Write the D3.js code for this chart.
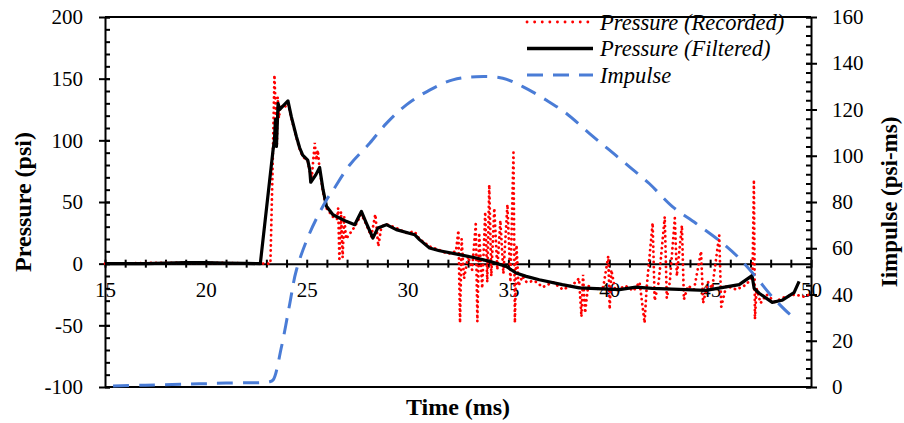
<!DOCTYPE html>
<html>
<head>
<meta charset="utf-8">
<script src="https://cdn.jsdelivr.net/npm/d3@7"></script>
<style>
  html, body { margin: 0; padding: 0; background: #fff; }
  svg { display: block; }
  text { font-family: "Liberation Serif", "Times New Roman", serif; fill: #000; }
</style>
</head>
<body>
<svg id="chart" width="904" height="423"></svg>
<script>
// ---------- DATA ----------
const xTickLabels = [15, 20, 25, 30, 35, 40, 45, 50];
const leftTickLabels = [-100, -50, 0, 50, 100, 150, 200];
const rightTickLabels = [0, 20, 40, 60, 80, 100, 120, 140, 160];
const seriesNames = ["Pressure (Recorded)", "Pressure (Filtered)", "Impulse"];

const recordedTime = [15, 17, 19, 21, 23.1, 23.2, 23.3, 23.4, 23.47, 23.52, 23.56, 23.62, 23.7, 23.85, 24.07, 24.24, 24.49, 24.65, 24.8, 25.05, 25.15, 25.25, 25.4, 25.47, 25.55, 25.64, 25.81, 25.98, 26.3, 26.5, 26.56, 26.62, 26.7, 26.78, 26.86, 26.95, 27.38, 27.71, 27.95, 28.2, 28.4, 28.55, 28.7, 28.95, 29.44, 29.9, 30.35, 30.59, 31.09, 31.58, 32.0, 32.4, 32.52, 32.6, 32.68, 32.8, 33.0, 33.2, 33.38, 33.46, 33.55, 33.7, 33.85, 33.95, 34.05, 34.15, 34.3, 34.45, 34.6, 34.75, 34.95, 35.1, 35.25, 35.32, 35.4, 35.5, 35.7, 35.9, 36.3, 36.7, 37.2, 37.7, 38.2, 38.5, 38.62, 38.7, 38.8, 38.95, 39.3, 39.7, 39.95, 40.02, 40.1, 40.3, 40.8, 41.2, 41.5, 41.75, 41.85, 42.15, 42.25, 42.45, 42.75, 42.85, 43.0, 43.25, 43.35, 43.6, 43.7, 43.9, 44.2, 44.55, 44.65, 44.9, 45.1, 45.45, 45.55, 45.8, 46.3, 46.8, 47.1, 47.17, 47.22, 47.3, 47.5, 47.8, 48.2, 48.7, 49.2, 49.7, 50];
const recordedPressure = [0, 0.5, 0.8, 0.5, 0, 0, 70, 153, 120, 95, 135, 118, 128, 126, 130, 118, 102, 93, 87, 83, 75, 70, 98, 84, 92, 76, 58, 45, 38, 36, 45, 2, 42, 5, 38, 20, 30, 40, 32, 22, 40, 14, 30, 32, 29, 25, 26, 20, 14, 11, 8, 10, 27, -48, 20, -12, 6, -5, 32, -47, 25, -20, 42, -15, 64, -10, 45, -5, 35, -8, 48, -15, 90, -48, 15, -18, -10, -15, -14, -19, -15, -21, -17, -12, -43, -9, -40, -18, -21, -19, 6, -37, -5, -22, -18, -22, -15, -48, -20, 33, -30, -15, 38, -28, -15, 37, -10, 31, -29, -18, -21, 10, -32, -15, -20, 23, -35, -18, -21, -17, -10, 68, -45, -20, -32, -25, -31, -27, -25, -27, -24];

const filteredTime = [15, 16, 17, 18, 19, 20, 21, 22, 22.7, 23.33, 23.4, 23.45, 23.5, 23.58, 23.66, 23.83, 24.07, 24.24, 24.49, 24.65, 24.8, 25.05, 25.15, 25.2, 25.45, 25.64, 25.81, 25.98, 26.3, 26.96, 27.38, 27.71, 27.95, 28.28, 28.53, 28.95, 29.44, 30.35, 30.59, 31.09, 31.58, 32.57, 33.4, 34.06, 34.89, 35.38, 35.88, 36.53, 37.67, 38.51, 40.5, 41.32, 42.13, 44.79, 46.44, 47.08, 47.18, 47.43, 48.08, 48.56, 49.16, 49.41];
const filteredPressure = [0, 0, 0, 0.5, 0.8, 0.8, 0.5, 0.3, 0, 92, 100, 117, 95, 130, 125, 128, 132, 119, 103, 94, 88, 84, 76, 66, 72, 78, 60, 46.5, 39.7, 34.3, 31.6, 42.4, 33, 20.8, 29, 31.6, 27.6, 23.5, 19.5, 12.7, 10.5, 7.3, 4.6, 1.9, -2.2, -7.6, -10.3, -13, -17, -19.6, -21, -19, -20, -21.6, -17, -9.7, -20, -24, -31.4, -29.7, -23.5, -14.3];

const impulseTime = [15.4, 17, 19, 21, 23.17, 23.33, 23.75, 24.16, 24.49, 25.15, 25.98, 26.3, 27.13, 28.12, 28.95, 29.94, 31.09, 32.24, 33.4, 34.72, 35.71, 36.87, 37.86, 39.01, 40, 40.99, 41.98, 43.13, 44.29, 45.53, 46.44, 47.26, 48.08, 48.99, 49.25];
const impulseValue = [0.4, 0.8, 1.2, 1.7, 2.3, 3, 17.4, 36, 50.6, 66.6, 80.9, 85, 96, 105.4, 114, 122, 128.4, 132.8, 134.2, 133.5, 129.9, 124.1, 118.4, 109.7, 102.5, 95.3, 88, 78, 70.8, 62.8, 55.7, 47.7, 39, 31.1, 29.5];

// ---------- LAYOUT ----------
const svg = d3.select("#chart");
const X0 = 105, X1 = 811, YT = 17, YB = 387;
const x = d3.scaleLinear().domain([15, 50]).range([X0, X1]);
const yL = d3.scaleLinear().domain([-100, 200]).range([YB, YT]);
const yR = d3.scaleLinear().domain([0, 160]).range([YB, YT]);

const RED = "#ff0000", BLACK = "#000000", BLUE = "#4a7cd6";
const tickFont = 21;
const FONT = '"Liberation Serif", "Times New Roman", serif';
const fmt = d => String(d);

// frame top & bottom
svg.append("line").attr("x1", X0).attr("x2", X1).attr("y1", YT).attr("y2", YT)
  .attr("stroke", "#000").attr("stroke-width", 2);
svg.append("line").attr("x1", X0).attr("x2", X1).attr("y1", YB).attr("y2", YB)
  .attr("stroke", "#000").attr("stroke-width", 2);

// ---------- SERIES ----------
const recData = recordedTime.map((t, i) => [t, recordedPressure[i]]);
const filData = filteredTime.map((t, i) => [t, filteredPressure[i]]);
const impData = impulseTime.map((t, i) => [t, impulseValue[i]]);

const lineL = d3.line().x(d => x(d[0])).y(d => yL(d[1]));
const lineR = d3.line().x(d => x(d[0])).y(d => yR(d[1])).curve(d3.curveCatmullRom.alpha(0.5));

// ---------- AXES ----------
function styleAxis(g) {
  g.select(".domain").attr("stroke", "#000").attr("stroke-width", 2);
  g.selectAll(".tick line").attr("stroke", "#000").attr("stroke-width", 2);
  g.selectAll("text").attr("font-size", tickFont).attr("fill", "#000").attr("font-family", FONT);
}

// left axis
const gL = svg.append("g").attr("transform", `translate(${X0},0)`);
gL.call(d3.axisLeft(yL).tickValues(d3.range(-100, 201, 10)).tickSize(-5).tickFormat(""))
  .call(g => g.select(".domain").remove())
  .selectAll(".tick line").attr("stroke", "#000").attr("stroke-width", 2);
const gL2 = svg.append("g").attr("transform", `translate(${X0},0)`);
gL2.call(d3.axisLeft(yL).tickValues(leftTickLabels).tickSize(6).tickSizeOuter(0).tickPadding(16).tickFormat(fmt));
styleAxis(gL2);
gL2.selectAll(".tick line").attr("x1", 5);

// right axis
const gR = svg.append("g").attr("transform", `translate(${X1},0)`);
gR.call(d3.axisRight(yR).tickValues(d3.range(0, 161, 4)).tickSize(-5).tickFormat(""))
  .call(g => g.select(".domain").remove())
  .selectAll(".tick line").attr("stroke", "#000").attr("stroke-width", 2);
const gR2 = svg.append("g").attr("transform", `translate(${X1},0)`);
gR2.call(d3.axisRight(yR).tickValues(rightTickLabels).tickSize(6).tickSizeOuter(0).tickPadding(15).tickFormat(fmt));
styleAxis(gR2);
gR2.selectAll(".tick line").attr("x1", -5);

// x axis at y = 0
const gX = svg.append("g").attr("transform", `translate(0,${yL(0)})`);
gX.call(d3.axisBottom(x).tickValues(d3.range(15, 51, 1)).tickSize(4).tickSizeOuter(0).tickFormat(""))
  .selectAll(".tick line").attr("y1", -4);
styleAxis(gX);
const gX2 = svg.append("g").attr("transform", `translate(0,${yL(0)})`);
gX2.call(d3.axisBottom(x).tickValues(xTickLabels).tickSize(0).tickPadding(18).tickFormat(fmt))
  .call(g => g.select(".domain").remove());
gX2.selectAll("text").attr("font-size", tickFont).attr("font-family", FONT);

// series drawn above axes
const plot = svg.append("g");
plot.append("path").datum(recData).attr("d", lineL)
  .attr("fill", "none").attr("stroke", RED).attr("stroke-width", 2.8)
  .attr("stroke-linecap", "round").attr("stroke-dasharray", "0.1,5");
plot.append("path").datum(filData).attr("d", lineL)
  .attr("fill", "none").attr("stroke", BLACK).attr("stroke-width", 3.2)
  .attr("stroke-linejoin", "round");
plot.append("path").datum(impData).attr("d", lineR)
  .attr("fill", "none").attr("stroke", BLUE).attr("stroke-width", 3)
  .attr("stroke-dasharray", "16,10");

// ---------- TITLES ----------
svg.append("text").attr("transform", `translate(31,${(YT + YB) / 2}) rotate(-90)`)
  .attr("text-anchor", "middle").attr("font-size", 24).attr("font-weight", "bold")
  .text("Pressure (psi)");
svg.append("text").attr("transform", `translate(897,${(YT + YB) / 2}) rotate(-90)`)
  .attr("text-anchor", "middle").attr("font-size", 23).attr("font-weight", "bold")
  .text("Iimpulse  (psi-ms)");
svg.append("text").attr("x", (X0 + X1) / 2).attr("y", 415)
  .attr("text-anchor", "middle").attr("font-size", 24).attr("font-weight", "bold")
  .text("Time (ms)");

// ---------- LEGEND ----------
const legendStyles = [
  { color: RED, width: 2.8, dash: "0.1,7.5", cap: "round" },
  { color: BLACK, width: 3.5, dash: null, cap: "butt" },
  { color: BLUE, width: 3, dash: "16,10", cap: "butt" }
];
const legend = svg.append("g");
seriesNames.forEach((name, i) => {
  const yy = 22 + i * 26.5;
  const s = legendStyles[i];
  const ln = legend.append("line").attr("x1", 527).attr("x2", 593).attr("y1", yy).attr("y2", yy)
    .attr("stroke", s.color).attr("stroke-width", s.width).attr("stroke-linecap", s.cap);
  if (s.dash) ln.attr("stroke-dasharray", s.dash);
  legend.append("text").attr("x", 600).attr("y", yy).attr("dy", "0.35em")
    .attr("font-size", 22.5).attr("font-style", "italic").text(name);
});
</script>
</body>
</html>
